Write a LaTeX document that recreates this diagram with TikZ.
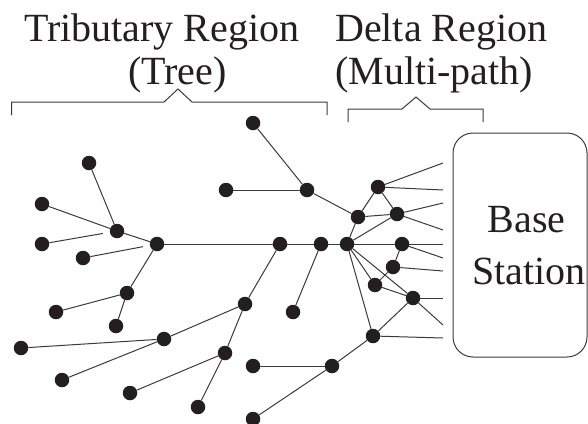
\documentclass[tikz,border=0pt]{standalone}
\usepackage{fontspec}
\setmainfont{Liberation Serif}
\definecolor{dotc}{HTML}{231F20}
\definecolor{linec}{HTML}{3A3A3A}
\definecolor{txtc}{HTML}{231F20}
\begin{document}
\begin{tikzpicture}[x=1pt,y=-1pt,
  dot/.style={circle,fill=dotc,inner sep=0pt,minimum size=14.5pt},
  link/.style={draw=linec,line width=1pt},
  gap/.style={shorten >=7pt},
  lbl/.style={inner sep=0pt,text=txtc,font=\fontsize{40}{43}\selectfont},
  brace/.style={draw=linec,line width=1pt},
  bsbox/.style={draw=linec,line width=1pt,rounded corners=20pt,minimum width=134pt,minimum height=224pt,inner sep=0pt}]
\useasboundingbox (0,0) rectangle (588,423);

% labels
\node[lbl,anchor=base west] (trib) at (24,41) {Tributary Region};
\node[lbl,anchor=base west] (tree) at (128,84) {(Tree)};
\node[lbl,anchor=base west] (delta) at (335,41) {Delta Region};
\node[lbl,anchor=base west] (multi) at (335,84) {(Multi-path)};

% brackets
\draw[brace] (11.7,115) -- (11.7,102) -- (164,102) -- (178,89) -- (192,102) -- (327,102) -- (327,115);
\draw[brace] (348,122) -- (348,109) -- (402,109) -- (416,97) -- (430,109) -- (483,109) -- (483,122);

% base station
\node[bsbox] (bs) at (520,245) {};
\node[lbl,anchor=base] (base) at (526.5,232) {Base};
\node[lbl,anchor=base] (station) at (529,284) {Station};

% tree nodes
\node[dot] (t1) at (253,123) {};
\node[dot] (t2) at (226,190) {};
\node[dot] (D) at (307,190) {};
\node[dot] (a1) at (89,163) {};
\node[dot] (a2) at (42,204) {};
\node[dot] (A) at (117,231) {};
\node[dot] (a3) at (42,244) {};
\node[dot] (a4) at (83,258) {};
\node[dot] (B) at (157,244) {};
\node[dot] (C) at (280,244) {};
\node[dot] (H) at (321,244) {};
\node[dot] (b1) at (127,293) {};
\node[dot] (b2) at (56,312) {};
\node[dot] (b3) at (116,326) {};
\node[dot] (c1) at (245,304) {};
\node[dot] (c2) at (164,339) {};
\node[dot] (c3) at (21,348) {};
\node[dot] (c4) at (62,380) {};
\node[dot] (c5) at (225,353) {};
\node[dot] (c6) at (130,393) {};
\node[dot] (c7) at (198,407) {};
\node[dot] (h1) at (293,312) {};
\node[dot] (p1) at (253,366) {};
\node[dot] (P) at (332,366) {};
\node[dot] (p2) at (253,419) {};

% delta nodes
\node[dot] (E) at (378,187) {};
\node[dot] (F) at (358,217) {};
\node[dot] (G) at (397,214) {};
\node[dot] (I) at (347,244) {};
\node[dot] (J) at (402,244) {};
\node[dot] (K) at (393,267) {};
\node[dot] (L) at (375,285) {};
\node[dot] (M) at (413,298) {};
\node[dot] (N) at (373,336) {};

% free ends at base station
\coordinate (r1) at (443,163);
\coordinate (r2) at (443,190);
\coordinate (r3) at (443,203);
\coordinate (r4) at (443,230);
\coordinate (r5) at (443,244);
\coordinate (r6) at (443,258);
\coordinate (r7) at (443,271);
\coordinate (r8) at (443,298);
\coordinate (r9) at (443,325);
\coordinate (r10) at (443,338);

% tree links
\draw[link] (t1) -- (D);
\draw[link] (t2) -- (D);
\draw[link] (D) -- (F);
\draw[link] (a1) -- (A);
\draw[link] (a2) -- (A);
\draw[link,gap] (a3) -- (A);
\draw[link] (A) -- (B);
\draw[link,gap] (a4) -- (B);
\draw[link] (B) -- (C);
\draw[link] (B) -- (b1);
\draw[link] (b1) -- (b3);
\draw[link] (b2) -- (b1);
\draw[link] (C) -- (H);
\draw[link] (H) -- (I);
\draw[link] (H) -- (h1);
\draw[link] (C) -- (c1);
\draw[link] (c1) -- (c5);
\draw[link] (c5) -- (c7);
\draw[link] (c5) -- (c6);
\draw[link] (c1) -- (c2);
\draw[link] (c2) -- (c3);
\draw[link] (c2) -- (c4);
\draw[link] (p1) -- (P);
\draw[link] (P) -- (N);
\draw[link] (P) -- (p2);

% delta links
\draw[link] (F) -- (E);
\draw[link] (F) -- (G);
\draw[link] (E) -- (G);
\draw[link] (F) -- (I);
\draw[link] (I) -- (G);
\draw[link] (I) -- (J);
\draw[link] (I) -- (L);
\draw[link] (I) -- (M);
\draw[link] (I) -- (N);
\draw[link] (J) -- (K);
\draw[link] (K) -- (L);
\draw[link] (L) -- (M);
\draw[link] (M) -- (N);

% links to base station
\draw[link] (E) -- (r1);
\draw[link] (E) -- (r2);
\draw[link] (G) -- (r3);
\draw[link] (G) -- (r4);
\draw[link] (J) -- (r5);
\draw[link] (J) -- (r6);
\draw[link] (K) -- (r7);
\draw[link] (M) -- (r8);
\draw[link] (M) -- (r9);
\draw[link] (N) -- (r10);
\end{tikzpicture}
\end{document}
